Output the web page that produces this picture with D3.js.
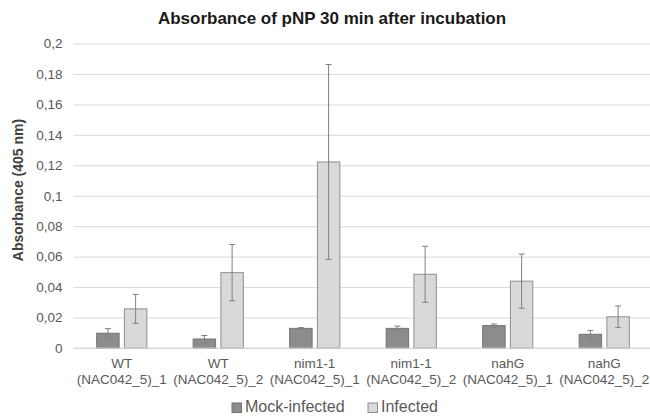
<!DOCTYPE html>
<html>
<head>
<meta charset="utf-8">
<script src="https://cdn.jsdelivr.net/npm/d3@7"></script>
<style>
  body { margin: 0; background: #fff; }
  svg text { font-family: "Liberation Sans", Arial, sans-serif; }
</style>
</head>
<body>
<svg id="chart" width="650" height="416"></svg>
<script>
var lines1 = ["WT", "WT", "nim1-1", "nim1-1", "nahG", "nahG"];
var lines2 = ["(NAC042_5)_1", "(NAC042_5)_2", "(NAC042_5)_1", "(NAC042_5)_2", "(NAC042_5)_1", "(NAC042_5)_2"];
var series = ["Mock-infected", "Infected"];
var mock = [0.0097, 0.0059, 0.0129, 0.0129, 0.0147, 0.0090];
var mockErr = [0.0030, 0.0023, 0.0005, 0.0015, 0.0011, 0.0025];
var infected = [0.0257, 0.0495, 0.1222, 0.0484, 0.0439, 0.0205];
var infectedErr = [0.0095, 0.0185, 0.0640, 0.0184, 0.0178, 0.0071];
var yTicks = [0, 0.02, 0.04, 0.06, 0.08, 0.1, 0.12, 0.14, 0.16, 0.18, 0.2];

var fills = {"Mock-infected": "#8c8c8c", "Infected": "#d9d9d9"};
var strokes = {"Mock-infected": "#737373", "Infected": "#8f8f8f"};

var svg = d3.select("#chart");
var idx = d3.range(lines1.length);

var x0 = d3.scaleBand().domain(idx).range([73.5, 652.5]).paddingInner(0.48).paddingOuter(0.24);
var x1 = d3.scaleBand().domain(series).range([0, x0.bandwidth()]).paddingInner(0.19);
var y = d3.scaleLinear().domain([0, 0.2]).range([348, 43.5]);

var fmt = function(d) { return String(+d.toFixed(2)).replace(".", ","); };

// grid + ticks
var yAxis = svg.append("g")
  .attr("transform", "translate(73.5,0)")
  .call(d3.axisLeft(y).tickValues(yTicks).tickSize(-579).tickFormat(fmt).tickPadding(11));
yAxis.select(".domain").remove();
yAxis.selectAll("line").attr("stroke", "#d9d9d9");
yAxis.selectAll("text").attr("fill", "#595959").style("font-size", "13.5px");

svg.append("text")
  .attr("transform", "translate(23,190) rotate(-90)")
  .attr("text-anchor", "middle")
  .attr("fill", "#404040")
  .style("font-size", "14px").style("font-weight", "bold")
  .text("Absorbance (405 nm)");

svg.append("text")
  .attr("x", 332).attr("y", 24)
  .attr("text-anchor", "middle")
  .attr("fill", "#1a1a1a")
  .style("font-size", "17px").style("font-weight", "bold")
  .text("Absorbance of pNP 30 min after incubation");

var data = [
  {name: "Mock-infected", vals: mock, errs: mockErr},
  {name: "Infected", vals: infected, errs: infectedErr}
];

data.forEach(function(s) {
  var g = svg.append("g");
  g.selectAll("rect").data(idx).enter().append("rect")
    .attr("x", function(i) { return x0(i) + x1(s.name); })
    .attr("y", function(i) { return y(s.vals[i]); })
    .attr("width", x1.bandwidth())
    .attr("height", function(i) { return y(0) - y(s.vals[i]); })
    .attr("fill", fills[s.name])
    .attr("stroke", strokes[s.name]);

  var e = svg.append("g").attr("stroke", "#808080").attr("stroke-width", 1);
  idx.forEach(function(i) {
    var cx = x0(i) + x1(s.name) + x1.bandwidth() / 2;
    var hi = y(s.vals[i] + s.errs[i]), lo = y(s.vals[i] - s.errs[i]);
    e.append("line").attr("x1", cx).attr("x2", cx).attr("y1", hi).attr("y2", lo);
    e.append("line").attr("x1", cx - 3).attr("x2", cx + 3).attr("y1", hi).attr("y2", hi);
    e.append("line").attr("x1", cx - 3).attr("x2", cx + 3).attr("y1", lo).attr("y2", lo);
  });
});

// zero line
svg.append("line").attr("x1", 73.5).attr("x2", 652.5).attr("y1", y(0)).attr("y2", y(0))
  .attr("stroke", "#d9d9d9");

// category labels
var cl = svg.append("g").attr("fill", "#595959").style("font-size", "13.5px").attr("text-anchor", "middle");
idx.forEach(function(i) {
  var cx = x0(i) + x0.bandwidth() / 2;
  cl.append("text").attr("x", cx).attr("y", 368).text(lines1[i]);
  cl.append("text").attr("x", cx).attr("y", 384).text(lines2[i]);
});

// legend
var legX = [232, 368];
series.forEach(function(s, k) {
  svg.append("rect").attr("x", legX[k]).attr("y", 403).attr("width", 9.5).attr("height", 9.5)
    .attr("fill", fills[s]).attr("stroke", strokes[s]);
  svg.append("text").attr("x", legX[k] + 13).attr("y", 412)
    .attr("fill", "#595959").style("font-size", "16px").text(s);
});
</script>
</body>
</html>
